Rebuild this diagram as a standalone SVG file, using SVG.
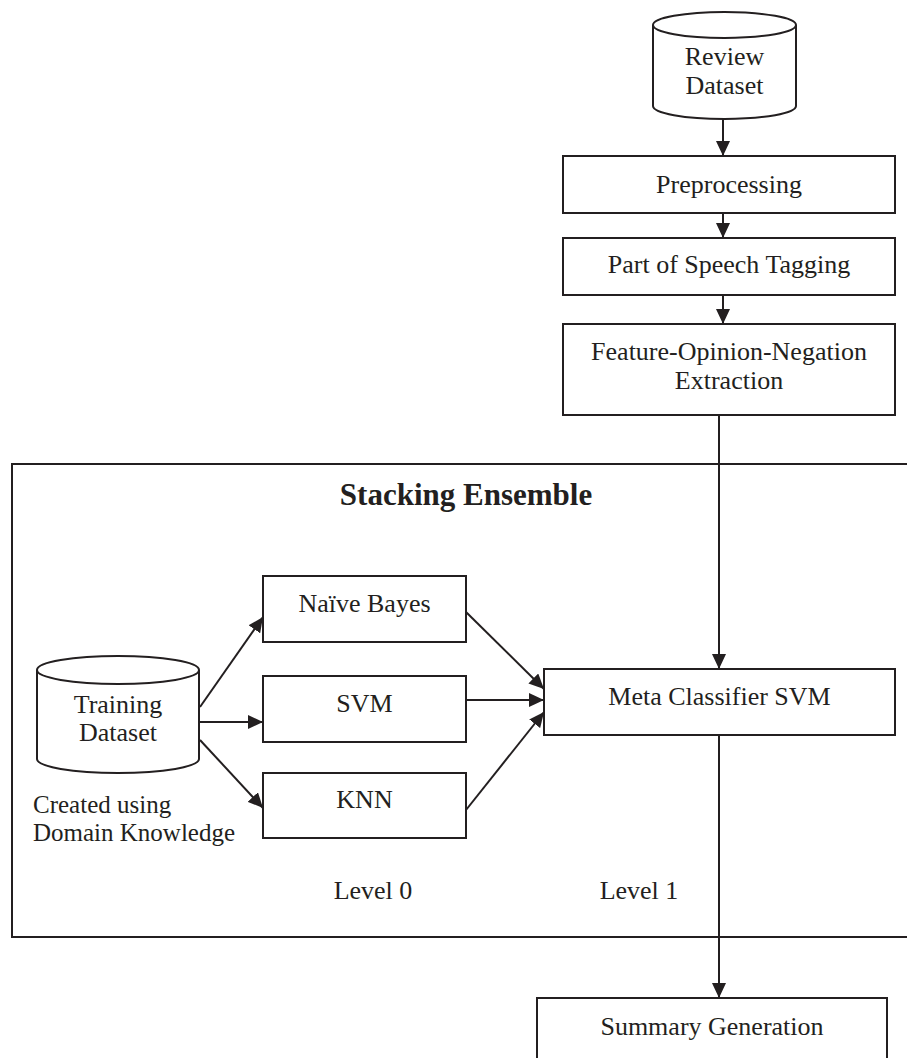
<svg xmlns="http://www.w3.org/2000/svg" width="907" height="1058" viewBox="0 0 907 1058">
<defs>
<style>
.box{fill:#fff;stroke:#231f20;stroke-width:2}
.ln{fill:none;stroke:#231f20;stroke-width:2}
text{font-family:"Liberation Serif","Times New Roman",serif;font-size:26px;fill:#231f20;text-anchor:middle}
.t{font-weight:bold;font-size:31px}
.l{text-anchor:start;font-size:25px}
</style>
<marker id="ah" markerUnits="userSpaceOnUse" markerWidth="16" markerHeight="14" refX="15" refY="7" orient="auto">
<path d="M0,0 L15,7 L0,14 z" fill="#231f20"/>
</marker>
</defs>
<rect width="907" height="1058" fill="#fff"/>
<g id="stacking-ensemble">
<rect class="box" x="12" y="464" width="920" height="473"/>
<text class="t" x="466" y="505">Stacking Ensemble</text>
<text x="373" y="899">Level 0</text>
<text x="639" y="899">Level 1</text>
</g>
<g id="review-dataset">
<path class="box" d="M653,25 L653,106 A71.5,13 0 0 0 796,106 L796,25"/>
<ellipse class="box" cx="724.5" cy="25" rx="71.5" ry="13"/>
<text x="724.5" y="65">Review</text>
<text x="724.5" y="94">Dataset</text>
</g>
<g id="preprocessing">
<rect class="box" x="563" y="156" width="332" height="57"/>
<text x="729" y="193">Preprocessing</text>
</g>
<g id="pos-tagging">
<rect class="box" x="563" y="238" width="332" height="57"/>
<text x="729" y="273">Part of Speech Tagging</text>
</g>
<g id="feature-extraction">
<rect class="box" x="563" y="324" width="332" height="91"/>
<text x="729" y="360">Feature-Opinion-Negation</text>
<text x="729" y="389">Extraction</text>
</g>
<g id="training-dataset">
<path class="box" d="M37,670 L37,759 A81,14 0 0 0 199,759 L199,670"/>
<ellipse class="box" cx="118" cy="670" rx="81" ry="14"/>
<text x="118" y="713">Training</text>
<text x="118" y="741">Dataset</text>
<text class="l" x="33" y="813">Created using</text>
<text class="l" x="33" y="841">Domain Knowledge</text>
</g>
<g id="naive-bayes">
<rect class="box" x="263" y="576" width="203" height="66"/>
<text x="364.5" y="612">Naïve Bayes</text>
</g>
<g id="svm">
<rect class="box" x="263" y="676" width="203" height="66"/>
<text x="364.5" y="712">SVM</text>
</g>
<g id="knn">
<rect class="box" x="263" y="773" width="203" height="65"/>
<text x="364.5" y="808">KNN</text>
</g>
<g id="meta-classifier">
<rect class="box" x="544" y="669" width="351" height="66"/>
<text x="719.5" y="705">Meta Classifier SVM</text>
</g>
<g id="summary-generation">
<rect class="box" x="537" y="998" width="350" height="80"/>
<text x="712" y="1035">Summary Generation</text>
</g>
<g id="connectors">
<line class="ln" x1="723" y1="119" x2="723" y2="156" marker-end="url(#ah)"/>
<line class="ln" x1="723" y1="213" x2="723" y2="238" marker-end="url(#ah)"/>
<line class="ln" x1="723" y1="295" x2="723" y2="324" marker-end="url(#ah)"/>
<line class="ln" x1="719" y1="415" x2="719" y2="669" marker-end="url(#ah)"/>
<line class="ln" x1="719" y1="735" x2="719" y2="998" marker-end="url(#ah)"/>
<line class="ln" x1="200" y1="707" x2="263" y2="617" marker-end="url(#ah)"/>
<line class="ln" x1="200" y1="722" x2="263" y2="722" marker-end="url(#ah)"/>
<line class="ln" x1="200" y1="740" x2="263" y2="808" marker-end="url(#ah)"/>
<line class="ln" x1="466" y1="612" x2="544" y2="689" marker-end="url(#ah)"/>
<line class="ln" x1="466" y1="700" x2="544" y2="700" marker-end="url(#ah)"/>
<line class="ln" x1="466" y1="810" x2="544" y2="712" marker-end="url(#ah)"/>
</g>
</svg>
